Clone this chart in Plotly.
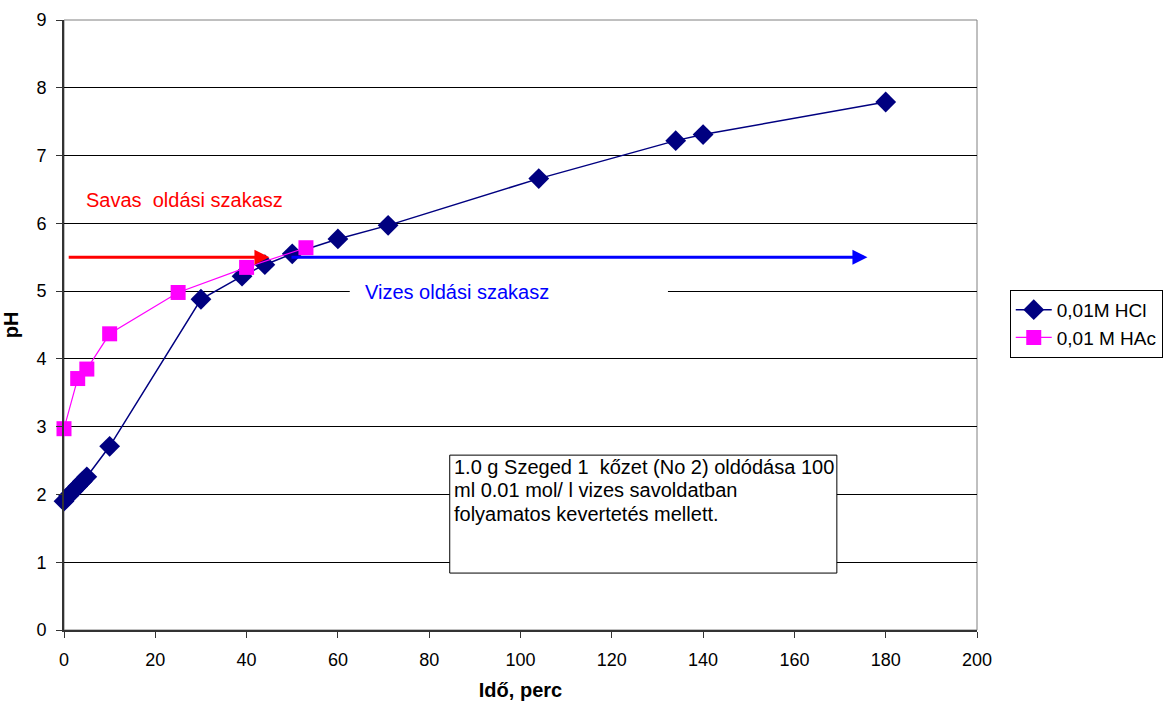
import plotly.graph_objects as go

# pH during dissolution, 0.01 M HCl
hcl_time = [0, 1, 2, 3, 4, 5, 10, 30, 39, 44, 50, 60, 71, 104, 134, 140, 180]
hcl_ph = [1.90, 1.98, 2.05, 2.12, 2.19, 2.26, 2.71, 4.88, 5.22, 5.39, 5.55, 5.77, 5.97, 6.66, 7.22, 7.31, 7.79]

# pH during dissolution, 0.01 M acetic acid
hac_time = [0, 3, 5, 10, 25, 40, 53]
hac_ph = [2.97, 3.71, 3.85, 4.37, 4.98, 5.35, 5.64]

x_ticks = [0, 20, 40, 60, 80, 100, 120, 140, 160, 180, 200]
y_ticks = [0, 1, 2, 3, 4, 5, 6, 7, 8, 9]

note_lines = [
    "1.0 g Szeged 1  kőzet (No 2) oldódása 100",
    "ml 0.01 mol/ l vizes savoldatban",
    "folyamatos kevertetés mellett.",
]

FONT = "Liberation Sans, Arial, sans-serif"

fig = go.Figure()
fig.add_trace(go.Scatter(
    x=hcl_time, y=hcl_ph, name="0,01M HCl", mode="lines+markers", cliponaxis=False,
    line=dict(color="#000080", width=1.5),
    marker=dict(symbol="diamond", size=16, color="#000080"),
))
fig.add_trace(go.Scatter(
    x=hac_time, y=hac_ph, name="0,01 M HAc", mode="lines+markers", cliponaxis=False,
    line=dict(color="#FF00FF", width=1.2),
    marker=dict(symbol="square", size=15, color="#FF00FF"),
))

# acid and water dissolution stages
fig.add_annotation(x=45, y=5.5, ax=0.7, ay=5.5, xref="x", yref="y", axref="x", ayref="y",
                   text="", showarrow=True, arrowhead=2, arrowsize=1, arrowwidth=3,
                   arrowcolor="#FF0000")
fig.add_annotation(x=176, y=5.5, ax=49.5, ay=5.5, xref="x", yref="y", axref="x", ayref="y",
                   text="", showarrow=True, arrowhead=2, arrowsize=1, arrowwidth=3,
                   arrowcolor="#0000FF")
fig.add_annotation(x=4.4, y=6.34, xref="x", yref="y", xanchor="left", yanchor="middle",
                   text="Savas  oldási szakasz", showarrow=False,
                   font=dict(family=FONT, size=20, color="#FF0000"))
# white label box that interrupts the gridline
fig.add_shape(type="rect", x0=62.6, x1=132.3, y0=4.86, y1=5.14, xref="x", yref="y",
              line=dict(width=0), fillcolor="white", layer="between")
fig.add_annotation(x=65.5, y=4.985, xref="x", yref="y", xanchor="left", yanchor="middle",
                   text="Vizes oldási szakasz", showarrow=False,
                   font=dict(family=FONT, size=20, color="#0000FF"))

# note box
fig.add_shape(type="rect", x0=84.5, x1=169.3, y0=0.84, y1=2.58, xref="x", yref="y",
              line=dict(color="#000000", width=1), fillcolor="white", layer="above")
for line, yv in zip(note_lines, [2.40, 2.065, 1.715]):
    fig.add_annotation(x=85.1, y=yv, xref="x", yref="y", xanchor="left", yanchor="middle",
                       align="left", showarrow=False, text=line,
                       font=dict(family=FONT, size=20, color="#000000"))

# plot-area frame
fig.add_shape(type="rect", x0=0, x1=1, y0=0, y1=1, xref="paper", yref="paper",
              line=dict(color="#808080", width=1), layer="below")

fig.update_layout(
    width=1166, height=704,
    margin=dict(l=64, r=189, t=20, b=74, autoexpand=False),
    paper_bgcolor="white", plot_bgcolor="white",
    font=dict(family=FONT, size=18, color="#000000"),
    showlegend=True,
    legend=dict(xref="container", yref="container", x=0.866, y=0.54,
                xanchor="left", yanchor="middle",
                bordercolor="#000000", borderwidth=1, bgcolor="white",
                font=dict(family=FONT, size=19), tracegroupgap=0, itemwidth=36),
)
fig.update_xaxes(
    range=[0, 200], tickvals=x_ticks, ticks="outside", ticklen=6, tickcolor="#333333",
    showgrid=False, zeroline=False, showline=True, linecolor="#333333", linewidth=2,
    ticklabelstandoff=6, automargin=False,
    title=dict(text="<b>Idő, perc</b>", font=dict(family=FONT, size=20), standoff=14),
    tickfont=dict(family=FONT, size=18),
)
fig.update_yaxes(
    range=[0, 9], tickvals=y_ticks, ticks="outside", ticklen=6, tickcolor="#333333",
    showgrid=True, gridcolor="#000000", gridwidth=1,
    zeroline=False, showline=True, linecolor="#333333", linewidth=2,
    ticklabelstandoff=6, automargin=False,
    title=dict(text="<b>pH</b>", font=dict(family=FONT, size=20), standoff=14),
    tickfont=dict(family=FONT, size=18),
)

fig.write_html("out.html")
